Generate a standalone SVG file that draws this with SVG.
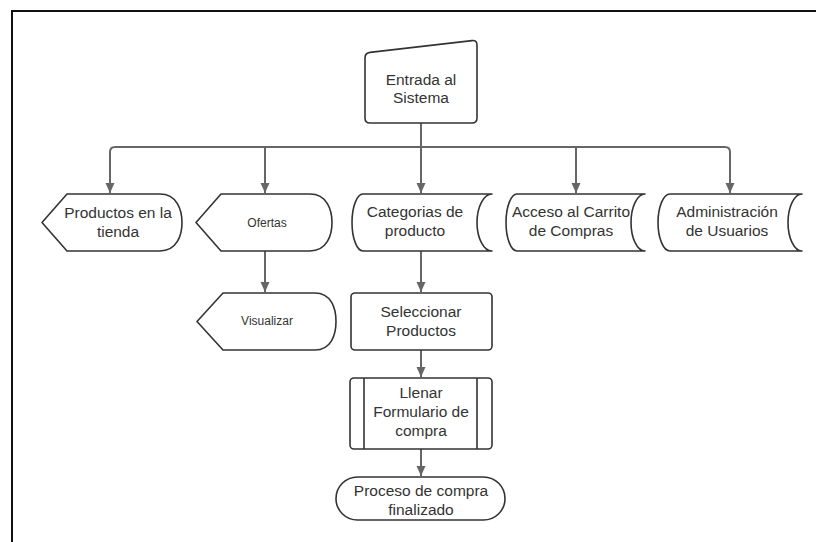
<svg xmlns="http://www.w3.org/2000/svg" width="816" height="542" viewBox="0 0 816 542">
  <style>
    .shape { fill: #ffffff; stroke: #333333; stroke-width: 1.6; stroke-linejoin: round; }
    .edge { fill: none; stroke: #666666; stroke-width: 2; stroke-linejoin: round; }
    .lbl { font-family: "Liberation Sans", Arial, sans-serif; font-size: 15.5px; fill: #333333; text-anchor: middle; }
    .sm { font-size: 12px; }
  </style>
  <defs>
    <marker id="arrow" viewBox="0 0 10 10" refX="10" refY="5" markerWidth="10" markerHeight="10" markerUnits="userSpaceOnUse" orient="auto">
      <path d="M0,0.5 L10,5 L0,9.5 Z" fill="#666666"/>
    </marker>
  </defs>

  <rect width="816" height="542" fill="#ffffff"/>
  <!-- page frame -->
  <path d="M12,542 L12,11 L816,11" fill="none" stroke="#111111" stroke-width="2"/>

  <!-- connectors -->
  <g id="connectors">
    <path class="edge" d="M421,123 L421,147"/>
    <path class="edge" d="M110,193 L110,152 Q110,147 115,147 L725,147 Q730,147 730,152 L730,193" marker-end="url(#arrow)"/>
    <path class="edge" d="M110,152 L110,193" marker-end="url(#arrow)"/>
    <path class="edge" d="M265,147 L265,193" marker-end="url(#arrow)"/>
    <path class="edge" d="M421,147 L421,193" marker-end="url(#arrow)"/>
    <path class="edge" d="M576,147 L576,193" marker-end="url(#arrow)"/>
    <path class="edge" d="M265,251 L265,292" marker-end="url(#arrow)"/>
    <path class="edge" d="M421,251 L421,292" marker-end="url(#arrow)"/>
    <path class="edge" d="M421,350 L421,377" marker-end="url(#arrow)"/>
    <path class="edge" d="M421,449 L421,476" marker-end="url(#arrow)"/>
  </g>

  <!-- manual input -->
  <g id="entrada">
    <path class="shape" d="M370,52.4 L472,40.6 Q477,40 477,45 L477,118 Q477,123 472,123 L370,123 Q365,123 365,118 L365,58 Q365,53 370,52.4 Z"/>
    <text class="lbl" x="421" y="85">Entrada al</text>
    <text class="lbl" x="421" y="103">Sistema</text>
  </g>

  <!-- display shapes -->
  <g id="productos">
    <path class="shape" d="M67,194 L160,194 C177,194 182,210 182,222.5 C182,235 177,251 160,251 L67,251 L42,222.5 Z"/>
    <text class="lbl" x="118" y="218">Productos en la</text>
    <text class="lbl" x="118" y="237">tienda</text>
  </g>

  <g id="ofertas">
    <path class="shape" d="M221,194 L310,194 C327,194 332,210 332,222.5 C332,235 327,251 310,251 L221,251 L196,222.5 Z"/>
    <text class="lbl sm" x="267" y="227">Ofertas</text>
  </g>

  <!-- stored data shapes -->
  <g id="categorias">
    <path class="shape" d="M363,194 L492,194 A15,28.5 0 0 0 492,251 L363,251 A11,28.5 0 0 1 363,194 Z"/>
    <text class="lbl" x="415" y="217">Categorias de</text>
    <text class="lbl" x="415" y="236">producto</text>
  </g>

  <g id="carrito">
    <path class="shape" d="M517,194 L645,194 A14,28.5 0 0 0 645,251 L517,251 A11,28.5 0 0 1 517,194 Z"/>
    <text class="lbl" x="571" y="217">Acceso al Carrito</text>
    <text class="lbl" x="571" y="236">de Compras</text>
  </g>

  <g id="usuarios">
    <path class="shape" d="M670,194 L802,194 A14,28.5 0 0 0 802,251 L670,251 A12,28.5 0 0 1 670,194 Z"/>
    <text class="lbl" x="727" y="217">Administración</text>
    <text class="lbl" x="727" y="236">de Usuarios</text>
  </g>

  <g id="visualizar">
    <path class="shape" d="M223,293 L315,293 C331,293 336,308 336,321.5 C336,335 331,350 315,350 L223,350 L197,321.5 Z"/>
    <text class="lbl sm" x="267" y="325">Visualizar</text>
  </g>

  <!-- process -->
  <g id="seleccionar">
    <rect class="shape" x="351" y="293" width="141" height="57" rx="4"/>
    <text class="lbl" x="421" y="317">Seleccionar</text>
    <text class="lbl" x="421" y="336">Productos</text>
  </g>

  <!-- predefined process -->
  <g id="formulario">
    <rect class="shape" x="350" y="378" width="142" height="71" rx="4"/>
    <path class="shape" d="M364,378 L364,449 M477,378 L477,449"/>
    <text class="lbl" x="421" y="398">Llenar</text>
    <text class="lbl" x="421" y="417">Formulario de</text>
    <text class="lbl" x="421" y="436">compra</text>
  </g>

  <!-- terminator -->
  <g id="fin">
    <rect class="shape" x="336" y="477" width="169" height="43" rx="21.5"/>
    <text class="lbl" x="421" y="496">Proceso de compra</text>
    <text class="lbl" x="421" y="515">finalizado</text>
  </g>
</svg>
